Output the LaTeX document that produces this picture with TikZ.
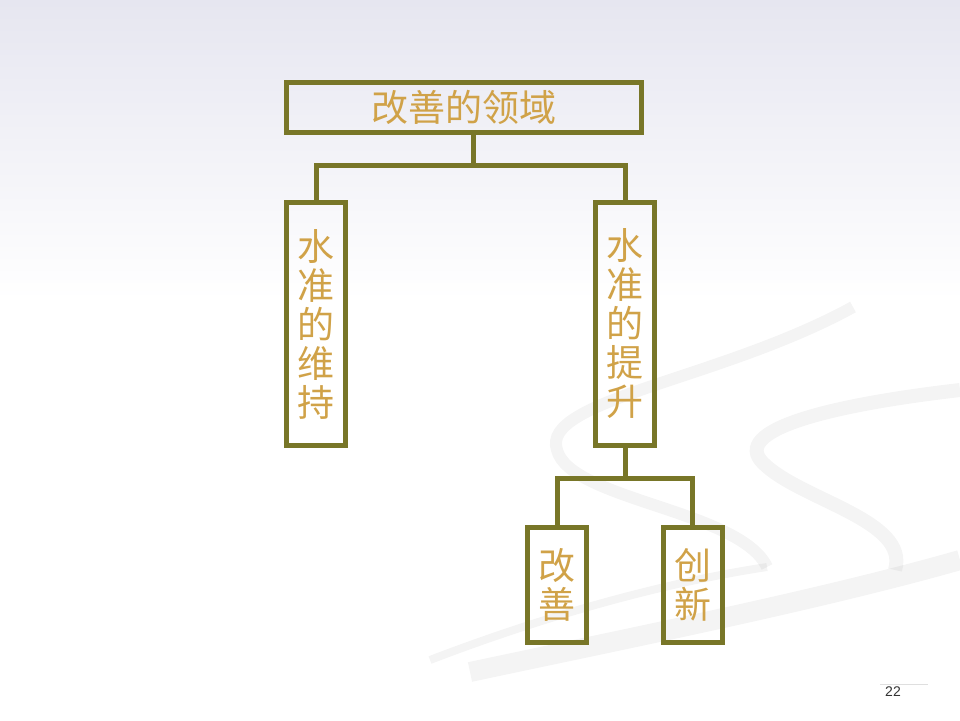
\documentclass[tikz,border=0pt]{standalone}
\usepackage{fontspec}
\newfontfamily\cjk{Noto Sans CJK SC}
\setmainfont{Liberation Sans}
\definecolor{boxline}{RGB}{120,118,40}
\definecolor{goldtext}{RGB}{208,162,72}
\tikzset{
  area/.style={draw=boxline, line width=5, inner sep=0pt, align=center, text=goldtext,
    font=\cjk\fontsize{37}{39}\selectfont},
  link/.style={draw=boxline, line width=5},
  swoosh/.style={gray, opacity=0.09}
}
\begin{document}
\begin{tikzpicture}[x=1pt,y=-1pt]
\useasboundingbox (0,0) rectangle (960,720);
\shade[top color={rgb,255:red,230;green,230;blue,240}, bottom color=white] (0,0) rectangle (960,300);
% background swooshes
\draw[swoosh, line width=12] (853,307) .. controls (720,380) and (540,400) .. (557,450) .. controls (570,500) and (740,510) .. (767,567);
\draw[swoosh, line width=14] (960,390) .. controls (830,405) and (730,430) .. (763,463) .. controls (800,500) and (910,520) .. (895,570);
\draw[swoosh, line width=20] (960,560) .. controls (820,600) and (620,640) .. (470,672);
\draw[swoosh, line width=8] (430,660) .. controls (560,610) and (680,580) .. (767,567);
\draw[gray!25, line width=1] (880,684) -- (928,684);
% boxes
\node[area, minimum width=355, minimum height=50] (field) at (464,107.5) {改善的领域};
\node[area, minimum width=59, minimum height=243] (keep) at (316,324) {水\\准\\的\\维\\持};
\node[area, minimum width=59, minimum height=243] (raise) at (625,324) {水\\准\\的\\提\\升};
\node[area, minimum width=59, minimum height=115] (improve) at (557,585) {改\\善};
\node[area, minimum width=59, minimum height=115] (innov) at (692.5,585) {创\\新};
% connectors
\coordinate (j1) at (473,165);
\coordinate (j2) at (625,478);
\draw[link] (j1 |- field.south) -- (j1);
\draw[link] (keep.north) |- (j1) -| (raise.north);
\draw[link] (raise.south) -- (j2);
\draw[link] (improve.north) |- (j2) -| (innov.north);
\node[font=\fontsize{14}{16}\selectfont, text=black!80] (page) at (893,692) {22};
\end{tikzpicture}
\end{document}
